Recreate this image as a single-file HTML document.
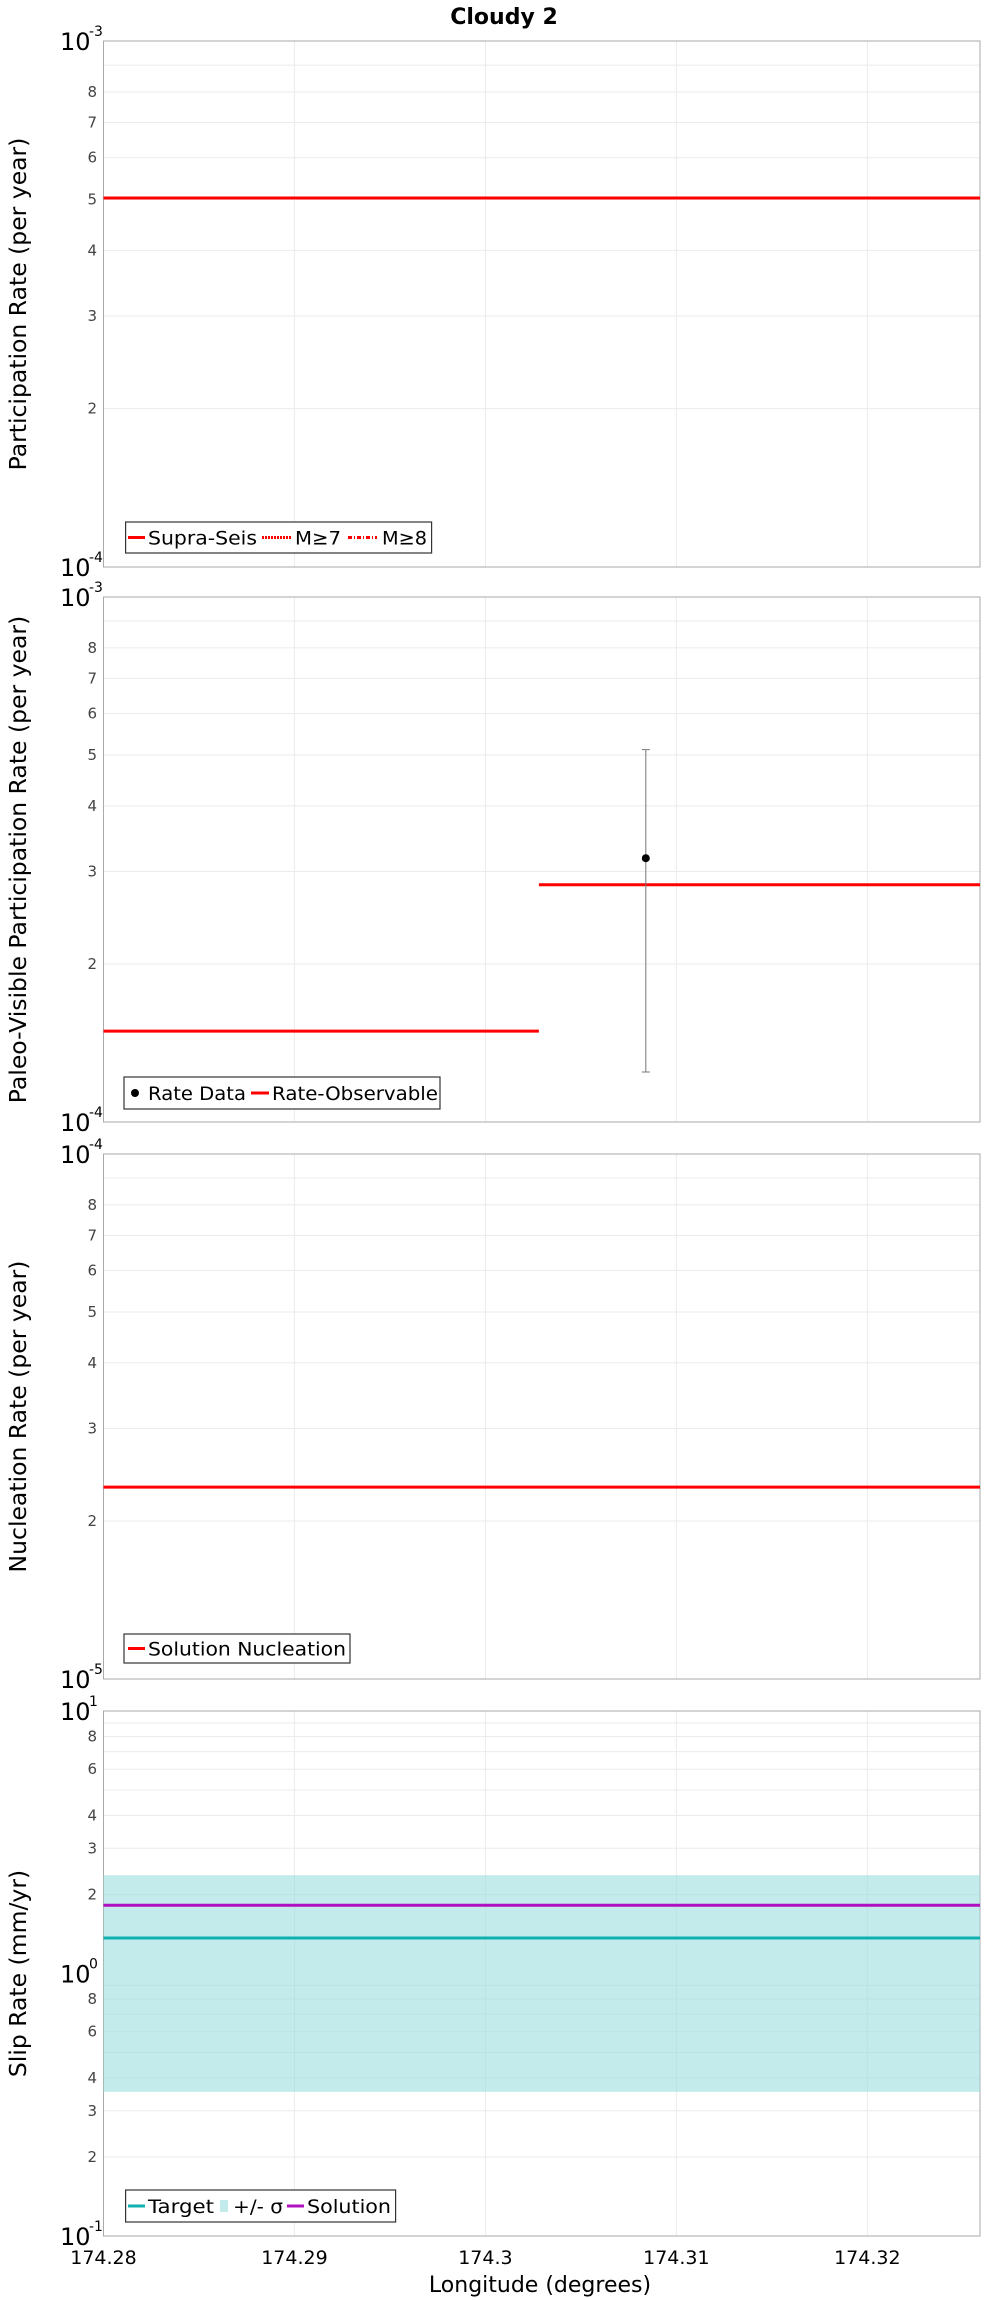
<!DOCTYPE html>
<html><head><meta charset="utf-8"><style>
html,body{margin:0;padding:0;background:#fff;}
svg{display:block;font-family:"DejaVu Sans","Liberation Sans",sans-serif;}
</style></head><body>
<svg id="chart" width="1000" height="2300" viewBox="0 0 1000 2300"></svg>
<script>
// ---- data ----
const xTicks = [174.28, 174.29, 174.3, 174.31, 174.32];
const xTickLabels = ["174.28", "174.29", "174.3", "174.31", "174.32"];
const p1SupraX = [174.28, 174.3259];
const p1SupraY = [5.03e-4, 5.03e-4];
const p2ObsX1 = [174.28, 174.3028];
const p2ObsY1 = [1.49e-4, 1.49e-4];
const p2ObsX2 = [174.3028, 174.3259];
const p2ObsY2 = [2.83e-4, 2.83e-4];
const p2DataX = [174.3084];
const p2DataY = [3.18e-4];
const p2DataHi = [5.12e-4];
const p2DataLo = [1.245e-4];
const p3NuclX = [174.28, 174.3259];
const p3NuclY = [2.32e-5, 2.32e-5];
const p4X = [174.28, 174.3028, 174.3259];
const p4Target = [1.365, 1.365, 1.365];
const p4Solution = [1.82, 1.82, 1.82];
const p4SigmaHi = [2.37, 2.37, 2.37];
const p4SigmaLo = [0.354, 0.354, 0.354];

// ---- layout ----
const svg = document.getElementById('chart');
const NS = 'http://www.w3.org/2000/svg';
const L = 103.5, R = 980;
const X0 = 174.28, X1 = 174.3259;
function sx(v){ return L + (v - X0) / (X1 - X0) * (R - L); }
function mk(tag, attrs, parent){
  const e = document.createElementNS(NS, tag);
  for (const k in attrs) e.setAttribute(k, attrs[k]);
  (parent || svg).appendChild(e);
  return e;
}
function panel(top, bot, lo, hi, labelsMinor, name, ytitle){
  const g = mk('g', {});
  
  
  const dl = Math.log10(lo), dh = Math.log10(hi);
  const sy = v => bot - (Math.log10(v) - dl) / (dh - dl) * (bot - top);
  for (let d = dl; d < dh; d++) {
    for (let m = 2; m <= 9; m++) {
      const v = m * Math.pow(10, d), y = sy(v);
      const gl = mk('line', {x1: L, x2: R, y1: y, y2: y, stroke: '#ebebeb', 'stroke-width': 1}, g);
      
      
      if (labelsMinor.indexOf(m) >= 0) {
        const t = mk('text', {x: 97, y: y + 5, 'text-anchor': 'end', 'font-size': 15, fill: '#444'}, g);
        t.textContent = m;
        
        
      }
    }
  }
  xTicks.forEach(v => {
    const gl = mk('line', {x1: sx(v), x2: sx(v), y1: top, y2: bot, stroke: '#ebebeb', 'stroke-width': 1}, g);
    
    
  });
  for (let d = dl; d <= dh; d++) {
    const y = sy(Math.pow(10, d));
    const t = mk('text', {x: 60, y: y + 9, 'font-size': 24, fill: '#000'}, g);
    t.textContent = '10';
    
    
    const e = mk('text', {x: 89, y: y - 5, 'font-size': 14, fill: '#000'}, g);
    e.textContent = String(d);
    
    
  }
  const fr = mk('rect', {x: L, y: top, width: R - L, height: bot - top, fill: 'none', stroke: '#aaa', 'stroke-width': 1}, g);
  
  
  const cy = (top + bot) / 2;
  const yt = mk('text', {x: 26, y: cy, 'font-size': 23.5, 'text-anchor': 'middle', transform: 'rotate(-90 26 ' + cy + ')', fill: '#000'}, g);
  yt.textContent = ytitle;
  
  
  return {g, sy};
}
function hline(g, xs, ys, sy, color, w, name){
  const pts = xs.map((x, i) => sx(x) + ',' + sy(ys[i])).join(' ');
  const p = mk('polyline', {points: pts, fill: 'none', stroke: color, 'stroke-width': w}, g);
  
  
  return p;
}
// items: {type, x0, x1 (symbol extent), tx, tw (text start and width), label}
function legend(g, x, y, w, h, items, name){
  const lg = mk('g', {}, g);
  
  
  mk('rect', {x: x, y: y, width: w, height: h, fill: '#fff', stroke: '#333', 'stroke-width': 1.2}, lg);
  const ty = y + h / 2;
  items.forEach(it => {
    if (it.type === 'line') mk('line', {x1: it.x0, x2: it.x1, y1: ty, y2: ty, stroke: it.color, 'stroke-width': 3, 'stroke-dasharray': it.dash || 'none'}, lg);
    else if (it.type === 'dot') mk('circle', {cx: (it.x0 + it.x1) / 2, cy: ty, r: 4, fill: '#000'}, lg);
    else if (it.type === 'box') mk('rect', {x: it.x0, y: ty - 6, width: it.x1 - it.x0, height: 12, fill: '#c2ecec'}, lg);
    const t = mk('text', {x: it.tx, y: ty + 7, 'font-size': 19, fill: '#000', textLength: it.tw, lengthAdjust: 'spacingAndGlyphs'}, lg);
    t.textContent = it.label;
    
    
  });
}

const title = mk('text', {x: 504, y: 24, 'text-anchor': 'middle', 'font-size': 22, 'font-weight': 'bold', fill: '#000'});
title.textContent = 'Cloudy 2';



// panel 1
const P1 = panel(41, 567, 1e-4, 1e-3, [2,3,4,5,6,7,8], 'participation-rate-panel', 'Participation Rate (per year)');
hline(P1.g, p1SupraX, p1SupraY, P1.sy, '#ff0000', 3, 'supra-seis-line');
legend(P1.g, 125.6, 522, 306, 31, [
  {type:'line', color:'#f00', x0:128, x1:145, tx:148, tw:109, label:'Supra-Seis'},
  {type:'line', color:'#f00', dash:'2,1', x0:262, x1:291, tx:295, tw:46, label:'M≥7'},
  {type:'line', color:'#f00', dash:'4,2,1,2', x0:348, x1:377, tx:382, tw:45, label:'M≥8'}], 'participation-legend');

// panel 2
const P2 = panel(597, 1122, 1e-4, 1e-3, [2,3,4,5,6,7,8], 'paleo-visible-panel', 'Paleo-Visible Participation Rate (per year)');
hline(P2.g, p2ObsX1, p2ObsY1, P2.sy, '#ff0000', 3, 'rate-observable-left');
hline(P2.g, p2ObsX2, p2ObsY2, P2.sy, '#ff0000', 3, 'rate-observable-right');
p2DataX.forEach((x, i) => {
  const px = sx(x);
  const eb = mk('path', {d: 'M' + px + ',' + P2.sy(p2DataHi[i]) + 'V' + P2.sy(p2DataLo[i]) + 'M' + (px-4) + ',' + P2.sy(p2DataHi[i]) + 'h8M' + (px-4) + ',' + P2.sy(p2DataLo[i]) + 'h8', stroke: '#777', 'stroke-width': 1, fill: 'none'}, P2.g);
  
  
  const c = mk('circle', {cx: px, cy: P2.sy(p2DataY[i]), r: 4, fill: '#000'}, P2.g);
  
  
});
legend(P2.g, 124, 1077, 316, 32, [
  {type:'dot', x0:131, x1:139, tx:148, tw:98, label:'Rate Data'},
  {type:'line', color:'#f00', x0:251, x1:269, tx:272, tw:166, label:'Rate-Observable'}], 'paleo-legend');

// panel 3
const P3 = panel(1154, 1679, 1e-5, 1e-4, [2,3,4,5,6,7,8], 'nucleation-panel', 'Nucleation Rate (per year)');
hline(P3.g, p3NuclX, p3NuclY, P3.sy, '#ff0000', 3, 'solution-nucleation-line');
legend(P3.g, 124, 1634, 226, 29, [
  {type:'line', color:'#f00', x0:128, x1:145, tx:148, tw:198, label:'Solution Nucleation'}], 'nucleation-legend');

// panel 4
const P4 = panel(1711, 2236, 0.1, 10, [2,3,4,6,8], 'slip-rate-panel', 'Slip Rate (mm/yr)');
const band = mk('polygon', {points: p4X.map((x,i)=>sx(x)+','+P4.sy(p4SigmaHi[i])).concat(p4X.slice().reverse().map((x,j)=>sx(x)+','+P4.sy(p4SigmaLo[p4X.length-1-j]))).join(' '), fill: '#9ddede', 'fill-opacity': 0.6}, P4.g);


hline(P4.g, p4X, p4Target, P4.sy, '#10b0b0', 3, 'target-line');
hline(P4.g, p4X, p4Solution, P4.sy, '#b010c0', 3, 'solution-line');
legend(P4.g, 125.6, 2190, 270, 32, [
  {type:'line', color:'#10b0b0', x0:128, x1:145, tx:148, tw:66, label:'Target'},
  {type:'box', x0:220, x1:228, tx:233, tw:50, label:'+/- σ'},
  {type:'line', color:'#b010c0', x0:287, x1:304, tx:307, tw:84, label:'Solution'}], 'slip-legend');
xTicks.forEach((v, i) => {
  const t = mk('text', {x: sx(v), y: 2264, 'text-anchor': 'middle', 'font-size': 19, fill: '#000'});
  t.textContent = xTickLabels[i];
  
  
});
const xt = mk('text', {x: 540, y: 2292, 'text-anchor': 'middle', 'font-size': 22, fill: '#000'});
xt.textContent = 'Longitude (degrees)';


</script>
</body></html>
